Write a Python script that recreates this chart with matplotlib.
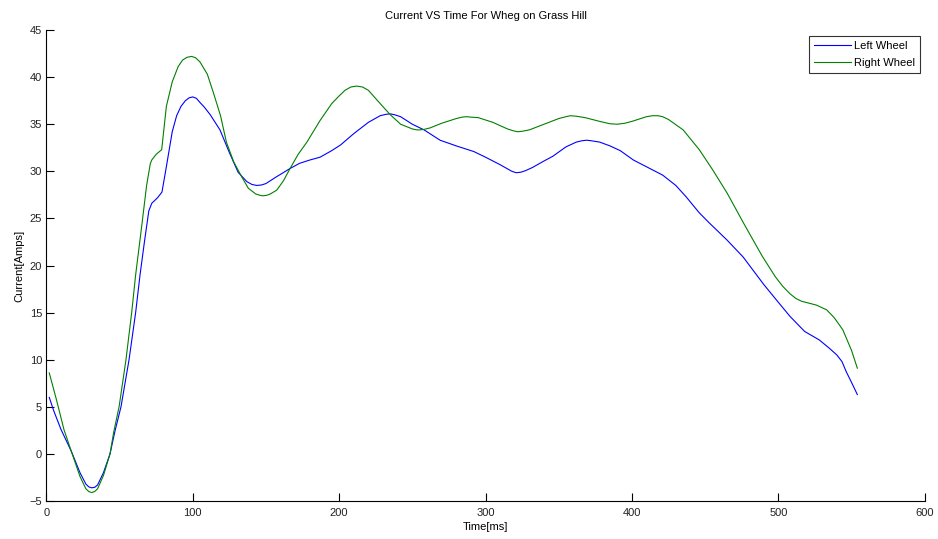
import matplotlib
matplotlib.use("Agg")
import matplotlib.pyplot as plt

plt.rcParams['font.family'] = ['Liberation Sans', 'DejaVu Sans']

# left wheel current samples (time in ms, current in amps)
left_t = [2, 5, 10, 17, 23, 27, 29, 31, 33, 35, 39, 43.5, 47, 51, 56.5, 61, 64,
          67, 70, 72, 74, 76, 79, 82, 86, 89, 92, 95, 97.5, 100, 102.5, 105, 108,
          112, 118.6, 125, 131, 137, 140.5, 143.7, 147, 150, 157, 166.5, 173, 180,
          187, 195, 201, 210, 220, 228, 232, 235, 238, 242, 250, 258, 269, 280,
          292, 300, 310, 318, 321, 324, 327, 332, 340, 346, 355, 362, 366, 369,
          372, 378, 385, 392, 401, 411, 421, 430, 437, 446, 453, 465, 476, 490,
          500, 508, 518, 528, 535, 540, 543.5, 546.5, 550, 554]
left_i = [6.0, 4.6, 2.6, 0.3, -2.0, -3.2, -3.5, -3.6, -3.55, -3.3, -2.0, 0.0,
          2.5, 5.0, 10.0, 15.0, 19.0, 22.5, 25.8, 26.6, 26.9, 27.2, 27.8, 30.5,
          34.2, 35.9, 36.9, 37.5, 37.8, 37.9, 37.75, 37.3, 36.8, 36.0, 34.4, 32.0,
          29.9, 28.9, 28.6, 28.5, 28.55, 28.7, 29.4, 30.3, 30.85, 31.2, 31.5,
          32.2, 32.8, 34.0, 35.2, 35.9, 36.05, 36.1, 36.0, 35.8, 35.0, 34.4, 33.3,
          32.7, 32.1, 31.5, 30.7, 30.0, 29.85, 29.9, 30.05, 30.4, 31.1, 31.6,
          32.6, 33.1, 33.25, 33.3, 33.25, 33.1, 32.7, 32.2, 31.2, 30.4, 29.6, 28.5,
          27.3, 25.6, 24.5, 22.7, 20.9, 18.0, 16.1, 14.6, 13.0, 12.1, 11.2, 10.5,
          9.8, 8.7, 7.6, 6.3]

# right wheel current samples
right_t = [2, 7, 12, 17, 23, 27, 29, 31, 33, 35, 39, 43.5, 46, 49.7, 54.4, 58.3,
           61, 65, 68.5, 71, 72, 75, 78.8, 82, 86, 90, 93, 96, 99.3, 102, 105,
           110, 114, 119, 123, 128, 133.5, 138, 143, 146, 148, 150.5, 153, 157.4,
           162, 166.5, 172, 178, 187, 195, 200, 204, 208, 212, 216, 220, 228, 235,
           242, 250, 253, 255, 258, 262, 270, 280, 284, 287, 290, 295, 305, 315,
           319, 322, 325, 330, 340, 350, 355, 358, 362, 368, 378, 385, 390, 395,
           400, 410, 414, 418, 421, 425, 435, 446, 455, 465, 477, 489, 498, 503,
           508, 512, 516, 521, 526, 533, 538, 544, 550, 554]
right_i = [8.6, 5.7, 2.6, 0.3, -2.4, -3.7, -4.0, -4.1, -4.0, -3.7, -2.3, 0.0,
           2.3, 5.0, 10.0, 15.0, 19.0, 24.0, 28.5, 30.8, 31.2, 31.8, 32.3, 36.9,
           39.5, 41.1, 41.8, 42.1, 42.2, 42.05, 41.6, 40.3, 38.4, 35.9, 33.1, 31.0,
           29.4, 28.2, 27.6, 27.45, 27.4, 27.45, 27.6, 28.0, 29.0, 30.3, 31.8,
           33.1, 35.4, 37.2, 38.0, 38.6, 38.95, 39.05, 38.95, 38.6, 37.2, 36.0,
           35.0, 34.5, 34.4, 34.4, 34.45, 34.6, 35.1, 35.6, 35.75, 35.8, 35.75,
           35.7, 35.2, 34.5, 34.3, 34.2, 34.25, 34.4, 35.0, 35.6, 35.8, 35.9,
           35.85, 35.7, 35.3, 35.05, 35.0, 35.1, 35.3, 35.8, 35.9, 35.9, 35.8,
           35.5, 34.4, 32.3, 30.2, 27.7, 24.3, 21.0, 18.8, 17.8, 17.0, 16.5, 16.2,
           16.0, 15.8, 15.3, 14.5, 13.2, 11.0, 9.1]

fig = plt.figure(figsize=(9.38, 5.39), dpi=100)
ax = fig.add_axes([0.0494, 0.0705, 0.9364, 0.8738])

ax.plot(left_t, left_i, color='#0000ff', lw=0.8, label='Left Wheel',
        solid_joinstyle='round')
ax.plot(right_t, right_i, color='#008000', lw=0.8, label='Right Wheel',
        solid_joinstyle='round')

ax.set_xlim(0, 600)
ax.set_ylim(-5, 45)
ax.set_xticks(range(0, 601, 100))
ax.set_yticks(range(-5, 46, 5))

ax.spines['top'].set_visible(False)
ax.spines['right'].set_visible(False)
for s in ('left', 'bottom'):
    ax.spines[s].set_linewidth(0.8)
ax.tick_params(direction='in', length=6, width=0.8, labelsize=8, pad=3,
               colors='black', labelcolor='#222222')
ax.tick_params(axis='x', pad=5)

ax.set_title('Current VS Time For Wheg on Grass Hill', fontsize=8, pad=8)
ax.set_xlabel('Time[ms]', fontsize=8, labelpad=3)
ax.set_ylabel('Current[Amps]', fontsize=8, labelpad=4)

leg = ax.legend(loc='upper right', bbox_to_anchor=(0.9943, 0.987), fontsize=8,
                frameon=True, fancybox=False, edgecolor='black',
                handlelength=3.4, handletextpad=0.2, borderpad=0.45,
                labelspacing=0.62, borderaxespad=0)
leg.get_frame().set_linewidth(0.8)

fig.savefig('out.png', dpi=100)
